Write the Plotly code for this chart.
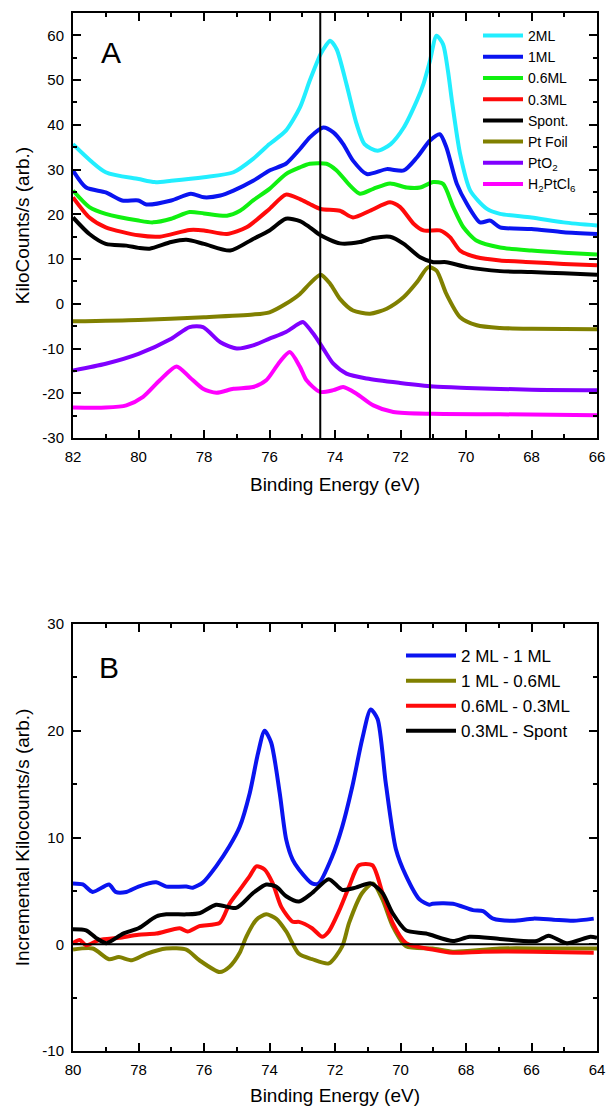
import plotly.graph_objects as go

# ---------------- Panel A: Pt 4f spectra ----------------
eV_2ML = [82, 81, 80, 79.5, 79, 78, 77.1, 76.5, 76, 75.5, 75.07, 74.77, 74.44, 74.3, 74.15, 73.95,
          73.65, 73.34, 73.1, 72.7, 72.3, 71.9, 71.5, 71.3, 71.1, 70.9, 70.7, 70.55, 70.43, 70.18,
          69.87, 69.36, 68.96, 68, 67.02, 66]
kc_2ML = [35.7, 29.4, 27.9, 27.2, 27.5, 28.3, 29.4, 32.4, 35.7, 38.7, 43.9, 49.9, 55.8, 57.5, 58.8, 56.9,
          49.1, 40.2, 35.7, 34.2, 35.7, 39.4, 45.4, 49.1, 54.3, 59.9, 58.0, 52.0, 45.4, 33.5,
          25.3, 21.2, 20.1, 19.3, 18.2, 17.5]

eV_1ML = [82, 81.6, 81, 80.5, 80, 79.76, 79, 78.4, 78, 77.5, 77.1, 76.5, 76, 75.5, 75.07, 74.77, 74.36,
          74.05, 73.75, 73.45, 73.03, 72.42, 71.9, 71.5, 71.1, 70.8, 70.6, 70.28, 69.97, 69.57, 69.26,
          68.96, 68, 67.02, 66]
kc_1ML = [29.8, 26.0, 24.9, 23.1, 23.1, 22.2, 23.1, 24.6, 23.8, 24.2, 25.3, 27.5, 29.8, 31.3, 34.6, 37.2, 39.4,
          38.3, 35.7, 32.0, 29.0, 30.1, 29.8, 32.7, 36.5, 37.9, 35.0, 26.8, 22.3, 18.2, 18.6,
          17.1, 16.7, 16.0, 15.6]

eV_06ML = [82, 81.5, 81, 80, 79.56, 79, 78.44, 78, 77.3, 76.9, 76.5, 76, 75.5, 75.07, 74.77, 74.26, 73.95,
           73.54, 73.24, 72.83, 72.32, 71.81, 71.4, 71, 70.7, 70.39, 70.08, 69.67, 68.96, 68, 67.02, 66]
kc_06ML = [25.3, 21.6, 20.1, 18.6, 18.2, 19.0, 20.5, 20.2, 19.7, 20.8, 23.1, 25.7, 29.0, 30.5, 31.3, 31.3, 29.8,
           26.4, 24.6, 25.7, 26.9, 26.0, 26.0, 27.2, 26.8, 21.6, 17.1, 14.1, 12.6, 11.9, 11.4, 11.0]

eV_03ML = [82, 81.5, 81, 80, 79.35, 78.44, 78, 77.3, 76.7, 76, 75.5, 75.07, 74.77, 74.44, 73.85, 73.45,
           72.93, 72.32, 72.01, 71.6, 71.3, 70.8, 70.49, 70.18, 69.67, 68.96, 68, 67.02, 66]
kc_03ML = [23.8, 19.3, 17.1, 15.3, 15.0, 16.5, 16.4, 15.6, 17.1, 21.2, 24.4, 23.4, 22.3, 21.2, 20.8, 19.3,
           20.8, 22.7, 21.6, 17.9, 16.4, 16.4, 14.9, 11.9, 10.4, 9.7, 9.3, 8.9, 8.6]

eV_spont = [82, 81.5, 81, 80.37, 80, 79.66, 79, 78.54, 78, 77.2, 76.5, 76, 75.5, 75.07, 74.77, 74.44,
            73.85, 73.24, 72.83, 72.32, 71.9, 71.4, 71, 70.6, 69.97, 68.96, 68, 67.02, 66]
kc_spont = [19.3, 15.6, 13.4, 13.0, 12.5, 12.3, 13.8, 14.3, 13.4, 11.9, 14.5, 16.4, 19.0, 18.5, 17.1, 15.3,
            13.5, 13.8, 14.7, 15.0, 13.4, 10.4, 9.3, 9.3, 8.2, 7.3, 7.1, 6.8, 6.5]

eV_foil = [82, 80, 78, 76.5, 76, 75.5, 75.07, 74.77, 74.44, 74.15, 73.85, 73.45, 72.93, 72.42, 71.9,
           71.5, 71.15, 70.9, 70.6, 70.18, 69.67, 68.96, 68, 66]
kc_foil = [-3.9, -3.6, -3.0, -2.4, -1.9, 0.0, 2.2, 4.5, 6.5, 4.5, 1.1, -1.5, -2.2, -1.1, 1.5,
           4.8, 8.2, 7.4, 2.2, -3.0, -4.8, -5.4, -5.6, -5.7]

eV_pto2 = [82, 81, 80, 79, 78.44, 78.03, 77.5, 77, 76.5, 76, 75.5, 75.07, 74.97, 74.66, 74.36, 74.05,
           73.65, 73.03, 72.01, 71, 69.97, 68, 66]
kc_pto2 = [-14.9, -13.4, -11.2, -7.8, -5.2, -5.2, -8.6, -10.0, -9.3, -7.8, -6.3, -4.3, -4.1, -6.7, -10.0, -13.4,
           -15.6, -16.7, -17.7, -18.5, -18.8, -19.2, -19.3]

eV_h2ptcl6 = [82, 81, 80.37, 79.86, 79.35, 78.84, 78.44, 78.03, 77.62, 77.1, 76.5, 76.1, 75.69, 75.38,
              75.07, 74.87, 74.46, 74.05, 73.75, 73.34, 72.83, 72.22, 71, 68.96, 66]
kc_h2ptcl6 = [-23.2, -23.2, -22.7, -20.8, -17.1, -14.0, -16.4, -19.0, -19.9, -19.0, -18.6, -17.1, -13.0, -10.8,
              -14.1, -17.1, -19.7, -19.3, -18.6, -20.1, -22.7, -24.2, -24.6, -24.7, -24.9]

ref_lines_eV = [74.45, 71.1]

# ---------------- Panel B: difference spectra ----------------
eV_d21 = [80, 79.7, 79.4, 78.9, 78.7, 78.37, 78, 77.46, 77.15, 76.54, 76.34, 76.03, 75.63, 75.22, 74.91,
          74.6, 74.35, 74.15, 73.95, 73.69, 73.49, 73.29, 73.1, 72.7, 72.5, 72.09, 71.78, 71.47, 71.17,
          70.91, 70.7, 70.45, 70.14, 69.83, 69.42, 69.12, 69.02, 68.4, 67.79, 67.48, 67.17, 66.56,
          65.94, 65.33, 64.72, 64.1]
d21 = [5.7, 5.6, 4.9, 5.6, 4.9, 4.9, 5.4, 5.8, 5.4, 5.4, 5.3, 5.8, 7.3, 9.2, 11.0,
       14.2, 17.9, 20.0, 18.9, 14.2, 9.8, 7.9, 7.0, 5.7, 5.7, 8.2, 11.0, 14.8, 19.2,
       22.0, 21.1, 15.1, 8.9, 6.4, 4.2, 3.7, 3.8, 3.8, 3.2, 3.1, 2.4, 2.2,
       2.4, 2.3, 2.2, 2.4]

eV_d106 = [80, 79.4, 78.9, 78.6, 78.2, 77.76, 77.15, 76.54, 76.14, 75.52, 75.22, 74.91, 74.71, 74.4, 74.1,
           73.8, 73.49, 73.1, 72.7, 72.19, 71.78, 71.57, 71.17, 70.84, 70.55, 70.24, 69.83, 69.02,
           68.4, 66.97, 65.43, 64]
d106 = [-0.5, -0.4, -1.4, -1.2, -1.5, -0.9, -0.4, -0.5, -1.5, -2.6, -2.1, -0.8, 0.7, 2.3, 2.8,
        2.4, 1.2, -0.9, -1.4, -1.8, -0.2, 2.0, 4.8, 5.7, 4.2, 1.7, -0.2, -0.4,
        -0.7, -0.4, -0.4, -0.4]

eV_d0603 = [80, 79.8, 79.6, 79.2, 78.6, 78, 77.46, 76.74, 76.5, 76.14, 75.52, 75.22, 74.91, 74.6, 74.4,
            74.15, 73.9, 73.64, 73.29, 73.1, 72.7, 72.39, 72.19, 71.88, 71.57, 71.27, 70.86, 70.55,
            70.24, 69.83, 69.02, 68.4, 67.48, 65.94, 64.1]
d0603 = [0.1, 0.4, -0.1, 0.4, 0.6, 0.9, 1.0, 1.5, 1.2, 1.7, 2.0, 3.8, 5.1, 6.4, 7.3,
         7.0, 5.7, 3.5, 2.1, 2.1, 1.5, 0.7, 1.2, 3.1, 5.4, 7.4, 7.4, 4.8,
         2.0, 0.1, -0.5, -0.8, -0.7, -0.7, -0.8]

eV_d03s = [80, 79.6, 79.3, 78.98, 78.47, 78, 77.46, 77.15, 76.54, 76.14, 75.63, 75.02, 74.5, 74.1, 73.8,
           73.49, 73.1, 72.7, 72.19, 71.78, 71.37, 70.91, 70.55, 70.24, 69.83, 69.22, 68.4, 67.89,
           66.97, 65.84, 65.48, 64.92, 64.2, 64]
d03s = [1.4, 1.3, 0.6, 0.1, 1.0, 1.5, 2.6, 2.8, 2.8, 2.9, 3.7, 3.4, 4.8, 5.6, 5.4,
        4.5, 4.0, 4.8, 6.1, 5.1, 5.3, 5.7, 4.8, 2.9, 1.3, 1.0, 0.3, 0.7,
        0.5, 0.3, 0.8, 0.1, 0.7, 0.6]

# tick labels (hyphen minus as in the original)
yA_ticks = [-30, -20, -10, 0, 10, 20, 30, 40, 50, 60]
yA_ticktext = ["-30", "-20", "-10", "0", "10", "20", "30", "40", "50", "60"]
yB_ticks = [-10, 0, 10, 20, 30]
yB_ticktext = ["-10", "0", "10", "20", "30"]

panelA = [
    ("2ML", eV_2ML, kc_2ML, "#22eeff"),
    ("1ML", eV_1ML, kc_1ML, "#0a14f0"),
    ("0.6ML", eV_06ML, kc_06ML, "#10f010"),
    ("0.3ML", eV_03ML, kc_03ML, "#ff0a0a"),
    ("Spont.", eV_spont, kc_spont, "#000000"),
    ("Pt Foil", eV_foil, kc_foil, "#808000"),
    ("PtO<sub>2</sub>", eV_pto2, kc_pto2, "#8000ff"),
    ("H<sub>2</sub>PtCl<sub>6</sub>", eV_h2ptcl6, kc_h2ptcl6, "#ff00ff"),
]
panelB = [
    ("2 ML - 1 ML", eV_d21, d21, "#0a14f0"),
    ("1 ML - 0.6ML", eV_d106, d106, "#808000"),
    ("0.6ML - 0.3ML", eV_d0603, d0603, "#ff0a0a"),
    ("0.3ML - Spont", eV_d03s, d03s, "#000000"),
]

W, H = 608, 1110
FONT = "Liberation Sans, Arial, Helvetica, sans-serif"

fig = go.Figure()
for name, x, y, c in panelA:
    fig.add_trace(go.Scatter(x=x, y=y, name=name, mode="lines",
                             line=dict(color=c, width=4, shape="spline", smoothing=0.7),
                             xaxis="x", yaxis="y", legend="legend"))
for name, x, y, c in panelB:
    fig.add_trace(go.Scatter(x=x, y=y, name=name, mode="lines",
                             line=dict(color=c, width=4, shape="spline", smoothing=0.7),
                             xaxis="x2", yaxis="y2", legend="legend2"))

xdom = [73 / W, 597 / W]
yA = [1 - 438 / H, 1 - 13 / H]
yB = [1 - 1051 / H, 1 - 624 / H]

common = dict(showline=True, linewidth=2, linecolor="black", mirror="ticks",
              ticks="inside", ticklen=8, tickwidth=1.5, tickcolor="black",
              showgrid=False, zeroline=False, automargin=False,
              tickfont=dict(size=15, color="black", family=FONT),
              ticklabelstandoff=4)

def minor(d):
    return dict(ticks="inside", ticklen=4, tickwidth=1.5, tickcolor="black",
                dtick=d, showgrid=False)

title_font = dict(size=19, color="black", family=FONT)

fig.update_layout(
    width=W, height=H,
    margin=dict(l=0, r=0, t=0, b=0),
    paper_bgcolor="white", plot_bgcolor="white",
    font=dict(family=FONT, color="black"),
    xaxis=dict(common, domain=xdom, anchor="y", range=[82, 66], dtick=2, tick0=0,
               minor=minor(1),
               title=dict(text="Binding Energy (eV)", font=title_font, standoff=14)),
    yaxis=dict(common, domain=yA, anchor="x", range=[-30, 65],
               tickmode="array", tickvals=yA_ticks, ticktext=yA_ticktext,
               minor=minor(5),
               title=dict(text="KiloCounts/s (arb.)", font=title_font, standoff=8)),
    xaxis2=dict(common, domain=xdom, anchor="y2", range=[80, 64], dtick=2, tick0=0,
                minor=minor(1),
                title=dict(text="Binding Energy (eV)", font=title_font, standoff=12)),
    yaxis2=dict(common, domain=yB, anchor="x2", range=[-10, 30],
                tickmode="array", tickvals=yB_ticks, ticktext=yB_ticktext,
                minor=minor(5),
                title=dict(text="Incremental Kilocounts/s (arb.)", font=title_font, standoff=8)),
    legend=dict(x=478 / W, y=1 - 20 / H, xanchor="left", yanchor="top",
                bgcolor="rgba(0,0,0,0)", font=dict(size=14, color="black", family=FONT),
                itemwidth=40, tracegroupgap=0),
    legend2=dict(x=401 / W, y=1 - 638 / H, xanchor="left", yanchor="top",
                 bgcolor="rgba(0,0,0,0)", font=dict(size=17, color="black", family=FONT),
                 itemwidth=50, tracegroupgap=0),
    showlegend=True,
)

for xv in ref_lines_eV:
    fig.add_shape(type="line", xref="x", yref="y domain", x0=xv, x1=xv, y0=0, y1=1,
                  line=dict(color="black", width=2))
fig.add_shape(type="line", xref="x2 domain", yref="y2", x0=0, x1=1, y0=0, y1=0,
              line=dict(color="black", width=2))

fig.add_annotation(text="A", xref="x domain", yref="y domain", x=0.0725, y=0.908,
                   xanchor="center", yanchor="middle",
                   showarrow=False, font=dict(size=30, color="black", family=FONT))
fig.add_annotation(text="B", xref="x2 domain", yref="y2 domain", x=0.069, y=0.897,
                   xanchor="center", yanchor="middle",
                   showarrow=False, font=dict(size=30, color="black", family=FONT))

fig.write_html("out.html")
